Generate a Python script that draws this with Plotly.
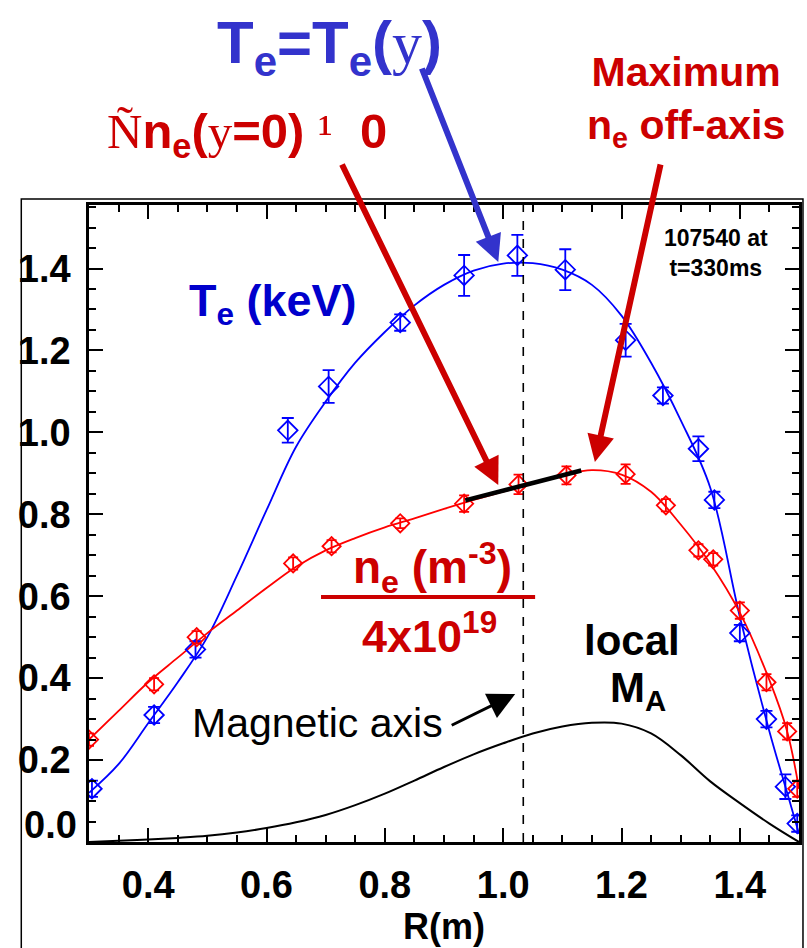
import plotly.graph_objects as go

# ---------------- data ----------------
R_te = [0.305, 0.41, 0.48, 0.636, 0.705, 0.826, 0.934, 1.024, 1.105, 1.207, 1.27, 1.33, 1.357, 1.40, 1.445, 1.477, 1.497]
te_keV = [0.13, 0.31, 0.47, 1.005, 1.112, 1.268, 1.383, 1.432, 1.397, 1.225, 1.09, 0.96, 0.835, 0.51, 0.30, 0.135, 0.045]
te_err = [0.02, 0.02, 0.02, 0.03, 0.04, 0.02, 0.05, 0.05, 0.05, 0.04, 0.02, 0.03, 0.02, 0.02, 0.02, 0.03, 0.02]

R_ne = [0.30, 0.41, 0.482, 0.645, 0.71, 0.826, 0.934, 1.026, 1.107, 1.207, 1.275, 1.33, 1.355, 1.40, 1.445, 1.48, 1.497]
ne_scaled = [0.25, 0.385, 0.50, 0.68, 0.722, 0.778, 0.826, 0.873, 0.895, 0.898, 0.822, 0.712, 0.69, 0.565, 0.39, 0.27, 0.13]
ne_err = [0.015, 0.015, 0.015, 0.015, 0.015, 0.012, 0.02, 0.024, 0.022, 0.024, 0.015, 0.015, 0.015, 0.02, 0.02, 0.02, 0.02]

R_fit = [0.30, 0.35, 0.40, 0.45, 0.50, 0.55, 0.60, 0.65, 0.70, 0.75, 0.80, 0.85, 0.90, 0.95, 1.00,
         1.05, 1.10, 1.15, 1.20, 1.25, 1.30, 1.35, 1.40, 1.45, 1.48, 1.50]
te_fit = [0.12, 0.19, 0.29, 0.39, 0.50, 0.65, 0.81, 0.965, 1.075, 1.17, 1.245, 1.31, 1.36, 1.395, 1.412,
          1.413, 1.397, 1.36, 1.285, 1.17, 1.03, 0.865, 0.55, 0.27, 0.12, 0.02]
ne_fit = [0.25, 0.32, 0.39, 0.45, 0.51, 0.565, 0.62, 0.672, 0.712, 0.742, 0.768, 0.79, 0.813, 0.835, 0.855,
          0.875, 0.895, 0.908, 0.897, 0.855, 0.775, 0.68, 0.56, 0.395, 0.27, 0.13]

R_ma = [0.30, 0.35, 0.40, 0.45, 0.50, 0.55, 0.60, 0.65, 0.70, 0.75, 0.80, 0.85, 0.90, 0.95, 1.00,
        1.05, 1.10, 1.15, 1.20, 1.25, 1.30, 1.35, 1.40, 1.45, 1.50]
mach_A = [0.0, 0.003, 0.006, 0.010, 0.015, 0.023, 0.034, 0.048, 0.066, 0.090, 0.118, 0.150, 0.183, 0.214, 0.241,
          0.265, 0.282, 0.291, 0.289, 0.265, 0.212, 0.148, 0.095, 0.045, 0.0]

grad_R = [0.936, 1.132]
grad_ne = [0.834, 0.907]

magnetic_axis_R = 1.034

x_tick_vals = [0.4, 0.6, 0.8, 1.0, 1.2, 1.4]
x_tick_text = ["0.4", "0.6", "0.8", "1.0", "1.2", "1.4"]
y_tick_vals = [0.2, 0.4, 0.6, 0.8, 1.0, 1.2, 1.4]
y_tick_text = ["0.2", "0.4", "0.6", "0.8", "1.0", "1.2", "1.4"]
y_zero_label = "0.0"

# ---------------- layout helpers ----------------
W, H = 807, 948
L, Rm, T, B = 89, 5, 205, 106
PW, PH = W - L - Rm, H - T - B


def px(x):
    return (x - L) / PW


def py(y):
    return (H - B - y) / PH


SANS = "Liberation Sans, Arial, Helvetica, sans-serif"
SERIF = "Liberation Serif"
BLUE = "rgb(0,0,255)"
RED = "rgb(255,0,0)"
DRED = "rgb(204,0,0)"
DBLUE = "rgb(0,0,204)"
ABLUE = "rgb(51,51,204)"

fig = go.Figure()

fig.add_trace(go.Scatter(x=R_fit, y=te_fit, mode="lines", line=dict(color=BLUE, width=1.8, shape="spline"),
                         hoverinfo="skip"))
fig.add_trace(go.Scatter(x=R_fit, y=ne_fit, mode="lines", line=dict(color=RED, width=1.8, shape="spline"),
                         hoverinfo="skip"))
fig.add_trace(go.Scatter(x=R_ma, y=mach_A, mode="lines", line=dict(color="black", width=2, shape="spline"),
                         hoverinfo="skip"))
fig.add_trace(go.Scatter(x=R_te, y=te_keV, mode="markers",
                         marker=dict(symbol="diamond-open", size=15, color=BLUE, line=dict(width=1.8, color=BLUE)),
                         error_y=dict(type="data", array=te_err, color=BLUE, thickness=1.8, width=6)))
fig.add_trace(go.Scatter(x=R_ne, y=ne_scaled, mode="markers",
                         marker=dict(symbol="diamond-open", size=14, color=RED, line=dict(width=1.8, color=RED)),
                         error_y=dict(type="data", array=ne_err, color=RED, thickness=1.8, width=5)))
fig.add_trace(go.Scatter(x=grad_R, y=grad_ne, mode="lines", line=dict(color="black", width=4.5)))

axis_common = dict(showline=True, linecolor="black", linewidth=2.5, mirror="allticks",
                   ticks="inside", ticklen=14, tickwidth=2, tickcolor="black",
                   showgrid=False, zeroline=False,
                   tickfont=dict(family=SANS, size=38, color="black", weight="bold"))

fig.update_xaxes(range=[0.3, 1.5], tickvals=x_tick_vals, ticktext=x_tick_text,
                 minor=dict(dtick=0.05, tick0=0.3, ticks="inside", ticklen=7, tickwidth=2, tickcolor="black"),
                 ticklabelstandoff=8,
                 title=dict(text="<b>R(m)</b>", font=dict(family=SANS, size=36, color="black"), standoff=9),
                 **axis_common)
fig.update_yaxes(range=[0.0, 1.555], tickvals=y_tick_vals, ticktext=y_tick_text,
                 minor=dict(dtick=0.05, tick0=0.0, ticks="inside", ticklen=7, tickwidth=2, tickcolor="black"),
                 ticklabelstandoff=8,
                 **axis_common)

shapes = [
    # outer frame
    dict(type="rect", xref="paper", yref="paper", x0=px(21), x1=px(806), y0=py(960), y1=py(199),
         line=dict(color="black", width=1.5), fillcolor="rgba(0,0,0,0)", layer="below"),
    # magnetic axis
    dict(type="line", xref="x", yref="paper", x0=magnetic_axis_R, x1=magnetic_axis_R, y0=0, y1=1,
         line=dict(color="black", width=1.6, dash="dash")),
    # fraction bar
    dict(type="line", xref="paper", yref="paper", x0=px(322), x1=px(537), y0=py(597), y1=py(597),
         line=dict(color=DRED, width=4)),
]


def txt(text, x, y, size, color, family=SANS, **kw):
    d = dict(text=text, x=px(x), y=py(y), xref="paper", yref="paper", showarrow=False,
             xanchor="center", yanchor="middle", font=dict(family=family, size=size, color=color))
    d.update(kw)
    return d


def arrow(tip_x, tip_y, tail_x, tail_y, color, width, size):
    return dict(text="", x=px(tip_x), y=py(tip_y), xref="paper", yref="paper",
                ax=tail_x - tip_x, ay=tail_y - tip_y, axref="pixel", ayref="pixel",
                showarrow=True, arrowhead=2, arrowsize=size, arrowwidth=width, arrowcolor=color,
                standoff=0, startstandoff=0)


serif = lambda s: f"<span style='font-family:{SERIF};font-weight:normal'>{s}</span>"

annotations = [
    txt("<b>T<sub>e</sub>=T<sub>e</sub>(</b>" + serif("y") + "<b>)</b>", 331, 47, 60, ABLUE),
    txt(serif("Ñ") + "<b>n<sub>e</sub>(</b>" + serif("y") + "<b>=0)</b> " + serif("¹") + "\u00a0 <b>0</b>",
        248, 134, 49, DRED),
    txt("<b>Maximum<br>n<sub>e</sub> off-axis</b>", 689, 102, 41, DRED),
    txt("<b>107540 at<br>t=330ms</b>", 719, 253, 23, "black"),
    txt("<b>T<sub>e</sub> (keV)</b>", 274, 303, 45, DBLUE),
    txt("<b>n<sub>e</sub> (m<sup>-3</sup>)</b>", 434, 567, 46, DRED),
    txt("<b>4x10<sup>19</sup></b>", 431, 633, 45, DRED),
    txt("<b>local</b>", 634, 640, 42, "black"),
    txt("<b>M<sub>A</sub></b>", 640, 690, 42, "black"),
    txt("Magnetic axis", 318, 723, 41, "black"),
    arrow(500, 262, 423, 67, ABLUE, 6, 0.9),
    arrow(500, 485, 343, 163, DRED, 6, 0.9),
    arrow(597, 462, 663, 163, DRED, 6, 0.9),
    arrow(517, 694, 452, 726, "black", 3, 1.8),
    dict(text=f"<b>{y_zero_label}</b>", x=0, y=0, xref="paper", yref="y", showarrow=False,
         xanchor="right", yanchor="middle", xshift=-10, yshift=17,
         font=dict(family=SANS, size=38, color="black")),
]

fig.update_layout(width=W, height=H, margin=dict(l=L, r=Rm, t=T, b=B),
                  paper_bgcolor="white", plot_bgcolor="white", showlegend=False,
                  shapes=shapes, annotations=annotations)

fig.write_html("out.html")
